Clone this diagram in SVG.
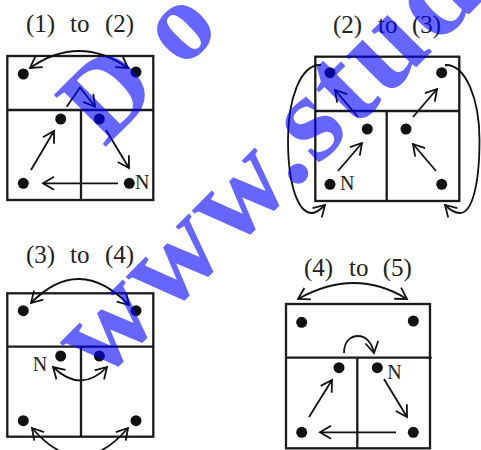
<svg xmlns="http://www.w3.org/2000/svg" width="481" height="450" viewBox="0 0 481 450">
<style>
.box{fill:none;stroke:#1a1a1a;stroke-width:2.3}
.dv{stroke:#1a1a1a;stroke-width:2.3;fill:none}
.dot{fill:#111}
.ttl{font-family:"Liberation Serif","Times New Roman",serif;font-size:25px;fill:#222}
.lbl{font-family:"Liberation Serif","Times New Roman",serif;font-size:20px;fill:#222}
.c{fill:none;stroke:#111;stroke-width:1.8}
.e{marker-end:url(#ah)}
.b{marker-start:url(#ah);marker-end:url(#ah)}
.wm{font-family:"Liberation Serif","Times New Roman",serif;font-weight:bold;fill:#0000ff;fill-opacity:0.6}
</style>
<defs>
<marker id="ah" viewBox="-13 -9 15 18" refX="0" refY="0" markerWidth="15" markerHeight="18" markerUnits="userSpaceOnUse" orient="auto-start-reverse">
<path d="M-11,-6.5 L0,0 L-11,6.5" fill="none" stroke="#111" stroke-width="1.8"/>
</marker>
</defs>

<g id="panel1">
<text class="ttl" y="32"><tspan x="26">(1)</tspan><tspan x="70">to</tspan><tspan x="105">(2)</tspan></text>
<rect class="box" x="7.3" y="56" width="146" height="144"/>
<path class="dv" d="M7.3,110 H153.3 M81,110 V200"/>
<circle class="dot" cx="23.3" cy="74" r="5.5"/>
<circle class="dot" cx="136" cy="72" r="5.5"/>
<circle class="dot" cx="60.7" cy="119" r="5.5"/>
<circle class="dot" cx="99.3" cy="119" r="5.5"/>
<circle class="dot" cx="23.3" cy="183.3" r="5.5"/>
<circle class="dot" cx="129.3" cy="183.3" r="5.5"/>
<text class="lbl" x="135" y="188.5">N</text>
</g>

<g id="panel2">
<text class="ttl" y="32.5"><tspan x="333">(2)</tspan><tspan x="378">to</tspan><tspan x="412">(3)</tspan></text>
<rect class="box" x="315.3" y="56.7" width="144" height="144.3"/>
<path class="dv" d="M315.3,111 H459.3 M386.7,111 V201"/>
<circle class="dot" cx="330" cy="72.7" r="5.5"/>
<circle class="dot" cx="441.7" cy="72.7" r="5.5"/>
<circle class="dot" cx="367.3" cy="129" r="5.5"/>
<circle class="dot" cx="406" cy="129" r="5.5"/>
<circle class="dot" cx="330" cy="184.3" r="5.5"/>
<circle class="dot" cx="441.7" cy="184.3" r="5.5"/>
<text class="lbl" x="340" y="190">N</text>
</g>

<g id="panel3">
<text class="ttl" y="262.5"><tspan x="26">(3)</tspan><tspan x="70">to</tspan><tspan x="105">(4)</tspan></text>
<rect class="box" x="7.3" y="293.3" width="146" height="143.4"/>
<path class="dv" d="M7.3,346.7 H153.3 M81,346.7 V436.7"/>
<circle class="dot" cx="23.3" cy="310.7" r="5.5"/>
<circle class="dot" cx="136" cy="310.7" r="5.5"/>
<circle class="dot" cx="60.7" cy="356" r="5.5"/>
<circle class="dot" cx="99.3" cy="356" r="5.5"/>
<circle class="dot" cx="23.3" cy="420.7" r="5.5"/>
<circle class="dot" cx="136" cy="420.7" r="5.5"/>
<text class="lbl" x="32.7" y="370.5">N</text>
</g>

<g id="panel4">
<text class="ttl" y="275.5"><tspan x="304">(4)</tspan><tspan x="349">to</tspan><tspan x="382.7">(5)</tspan></text>
<rect class="box" x="286" y="304" width="144" height="144.3"/>
<path class="dv" d="M286,357.7 H431.7 M357.3,357.7 V448"/>
<circle class="dot" cx="301.7" cy="322.3" r="5.5"/>
<circle class="dot" cx="413.3" cy="321" r="5.5"/>
<circle class="dot" cx="339" cy="367.7" r="5.5"/>
<circle class="dot" cx="377.3" cy="367.7" r="5.5"/>
<circle class="dot" cx="301.7" cy="432.3" r="5.5"/>
<circle class="dot" cx="413.3" cy="432.3" r="5.5"/>
<text class="lbl" x="387.3" y="378.5">N</text>
</g>

<g id="connectors">
<path class="c b" d="M30,68 Q79,34 128,68"/>
<path class="c e" d="M66.7,106.7 L80,87.5 L95,106.5"/>
<path class="c e" d="M106,130 L129,168"/>
<path class="c e" d="M118,183.3 L43,183.3"/>
<path class="c e" d="M31,170 L54,131"/>

<path class="c e" d="M358,117 L335,90"/>
<path class="c e" d="M413,117 L437,89"/>
<path class="c e" d="M338,171 L362,143"/>
<path class="c e" d="M436,171 L413,144"/>
<path class="c e" d="M321,65 C300,64 288,100 288,140 C288,185 298,213 312,213 C317,213 321,209 325,205"/>
<path class="c e" d="M445,65 C466,64 479.5,100 479.5,140 C479.5,185 472,213 460,213 C455,213 449,209 445,205"/>

<path class="c b" d="M31,303 Q79,254 129,305"/>
<path class="c b" d="M53,367 Q81,394 107,367"/>
<path class="c b" d="M32,428 Q80,484 128,428"/>

<path class="c b" d="M298,299 Q355,267 407,299"/>
<path class="c e" d="M344,353 C344,341 351,336 358,336 C366,336 372,343 374,353"/>
<path class="c e" d="M384,379 L407,417"/>
<path class="c e" d="M396,432.3 L320,432.3"/>
<path class="c e" d="M309,417 L332,380"/>
</g>

<g id="watermark">
<text class="wm" style="font-size:112px;letter-spacing:30px" transform="translate(104.2,148.3) rotate(-45)">Dow</text>
<text class="wm" style="font-size:125px;letter-spacing:3px" transform="translate(100,383.4) rotate(-45)">www.stud</text>
</g>
</svg>
